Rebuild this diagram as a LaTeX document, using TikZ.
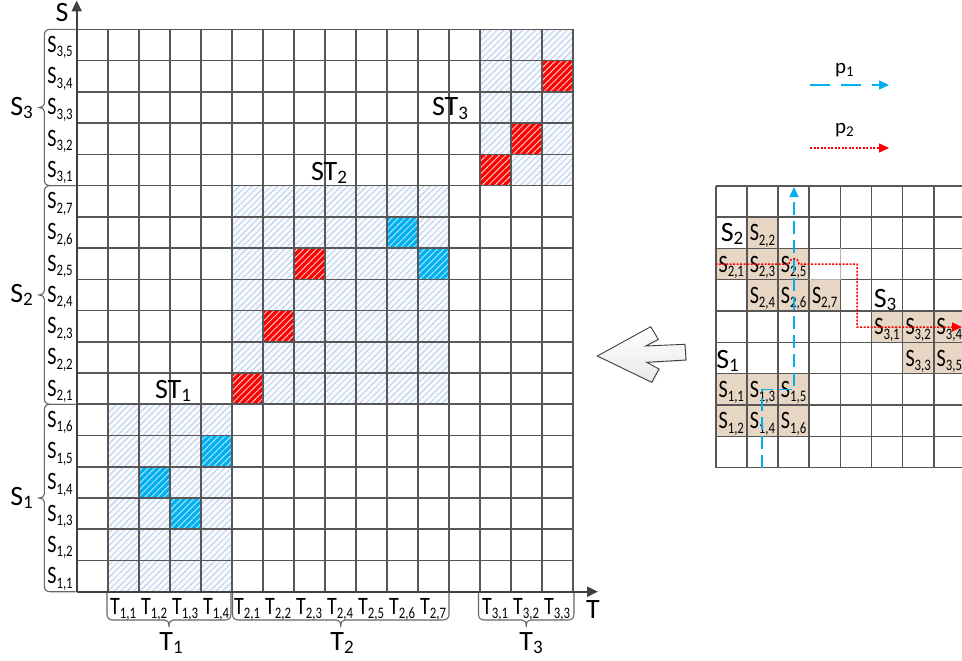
\documentclass[tikz,border=0pt]{standalone}
\usepackage{fontspec}
\setmainfont{Carlito}
\usetikzlibrary{patterns.meta,arrows.meta,shadows}
\definecolor{gridc}{HTML}{575757}
\definecolor{axisc}{HTML}{404040}
\definecolor{bracec}{HTML}{666666}
\definecolor{hbg}{HTML}{F7F9FD}
\definecolor{hline}{HTML}{B3CBE8}
\definecolor{cred}{HTML}{FF0000}
\definecolor{credl}{HTML}{FFC4C4}
\definecolor{cblue}{HTML}{00B0F0}
\definecolor{cbluel}{HTML}{A6E2F8}
\definecolor{tancell}{HTML}{E6D6C3}
\definecolor{pblue}{HTML}{00B0F0}
\definecolor{pred}{HTML}{FF0000}
\newcommand{\smalllab}[2]{\scalebox{0.8}[1]{#1\raisebox{-4.5pt}{\fontsize{16}{16}\selectfont #2}}}
\newcommand{\biglab}[2]{#1\raisebox{-3pt}{\fontsize{19}{19}\selectfont #2}}
\def\gridX{76.7}\def\gridW{31}\def\gridY{591.7}\def\gridH{31.24}
\def\smX{715.7}\def\smW{31.15}\def\smY{185.7}\def\smH{31.33}
\newcommand{\mcell}[3]{\fill[#3] ({\gridX+#1*\gridW},{\gridY-#2*\gridH}) rectangle ({\gridX+#1*\gridW+\gridW},{\gridY-#2*\gridH-\gridH});}
\newcommand{\twocell}[4]{\mcell{#1}{#2}{#3}\mcell{#1}{#2}{#4}}
\newcommand{\sbrace}[2]{%
\pgfmathsetmacro\bmid{(#1+#2)/2}%
\draw[bracestyle] (75.5,#1) -- (50.3,#1) .. controls (46.3,#1) and (44.3,{#1+2}) .. (44.3,{#1+6}) -- (44.3,{\bmid-4}) .. controls (44.3,{\bmid-1.5}) and (42,\bmid) .. (39,\bmid) .. controls (42,\bmid) and (44.3,{\bmid+1.5}) .. (44.3,{\bmid+4}) -- (44.3,{#2-6}) .. controls (44.3,{#2-2}) and (46.3,#2) .. (50.3,#2) -- (75.5,#2);}
\newcommand{\tbrace}[2]{%
\pgfmathsetmacro\bmid{(#1+#2)/2}%
\draw[bracestyle] (#1,593) -- (#1,614) .. controls (#1,618) and ({#1+2},620) .. ({#1+6},620) -- ({\bmid-4},620) .. controls ({\bmid-1.5},620) and (\bmid,622) .. (\bmid,627) .. controls (\bmid,622) and ({\bmid+1.5},620) .. ({\bmid+4},620) -- ({#2-6},620) .. controls ({#2-2},620) and (#2,618) .. (#2,614) -- (#2,593);}
\newcommand{\tcell}[4]{%
\fill[tancell] ({\smX+#1*\smW},{\smY+#2*\smH}) rectangle ({\smX+#1*\smW+\smW},{\smY+#2*\smH+\smH});
\node[slab] (#3) at ({\smX+(#1+0.5)*\smW},{\smY+(#2+0.5)*\smH+8}) {#4};}
\begin{document}
\begin{tikzpicture}[x=1pt,y=-1pt,
 gridline/.style={draw=gridc,line width=1.6pt},
 axisline/.style={draw=axisc,line width=2pt,-{Triangle[length=11pt,width=10pt]}},
 bracestyle/.style={draw=bracec,line width=1.1pt},
 slab/.style={font=\fontsize{25}{25}\selectfont,inner sep=0pt,anchor=base},
 blab/.style={font=\fontsize{28}{28}\selectfont,inner sep=0pt,anchor=base},
 hbgst/.style={fill=hbg},
 hpatst/.style={pattern={Lines[angle=45,distance=4.5pt,line width=0.8pt]},pattern color=hline},
 rbgst/.style={fill=cred},
 rpatst/.style={pattern={Lines[angle=45,distance=4.5pt,line width=1pt]},pattern color=credl},
 bbgst/.style={fill=cblue},
 bpatst/.style={pattern={Lines[angle=45,distance=4.5pt,line width=1pt]},pattern color=cbluel},
 p1line/.style={draw=pblue,line width=1.5pt,dash pattern=on 20pt off 11pt,-{Triangle[length=10pt,width=9pt]}},
 p1path/.style={draw=pblue,line width=1.5pt,dash pattern=on 13pt off 6pt,-{Triangle[length=10pt,width=9pt]}},
 p2line/.style={draw=pred,line width=1.5pt,dash pattern=on 2pt off 1.5pt,-{Triangle[length=10pt,width=9pt]}},
 bigarrow/.style={draw=axisc,line width=0.9pt,top color=white,bottom color=gray!18,drop shadow={opacity=0.25,shadow xshift=1pt,shadow yshift=-1pt}}
 ]
\useasboundingbox (0,0) rectangle (962,661);
% ---------- hatched sub-tables ----------
\foreach \c in {1,...,4}{\foreach \r in {0,...,5}{\twocell{\c}{\r}{hbgst}{hpatst}}}
\foreach \c in {5,...,11}{\foreach \r in {6,...,12}{\twocell{\c}{\r}{hbgst}{hpatst}}}
\foreach \c in {13,...,15}{\foreach \r in {13,...,17}{\twocell{\c}{\r}{hbgst}{hpatst}}}
% red cells
\foreach \c/\r in {5/6,6/8,7/10,13/13,14/14,15/16}{\twocell{\c}{\r}{rbgst}{rpatst}}
% blue cells
\foreach \c/\r in {4/4,2/3,3/2,10/11,11/10}{\twocell{\c}{\r}{bbgst}{bpatst}}
% ---------- grid ----------
\foreach \i in {0,...,16}{\draw[gridline] ({\gridX+\i*\gridW},\gridY) -- ({\gridX+\i*\gridW},{\gridY-18*\gridH});}
\foreach \j in {0,...,18}{\draw[gridline] (\gridX,{\gridY-\j*\gridH}) -- ({\gridX+16*\gridW},{\gridY-\j*\gridH});}
% ---------- axes ----------
\coordinate (O) at (\gridX,\gridY);
\coordinate (Stip) at (\gridX,0.5);
\coordinate (Ttip) at (598,\gridY);
\draw[axisline] (O) -- (Stip);
\draw[axisline] (O) -- (Ttip);
\node[blab] (Saxis) at (62,21.7) {S};
\node[blab] (Taxis) at (593,618) {T};
% ---------- row labels ----------
\foreach \j in {1,...,6}{\node[slab] (s1\j) at (60,{\gridY-(\j-0.5)*\gridH+7.5}) {\smalllab{S}{1,\j}};}
\foreach \j in {1,...,7}{\node[slab] (s2\j) at (60,{\gridY-(\j+5.5)*\gridH+7.5}) {\smalllab{S}{2,\j}};}
\foreach \j in {1,...,5}{\node[slab] (s3\j) at (60,{\gridY-(\j+12.5)*\gridH+7.5}) {\smalllab{S}{3,\j}};}
% ---------- column labels ----------
\foreach \j in {1,...,4}{\node[slab] (t1\j) at ({\gridX+(\j+0.5)*\gridW},614) {\smalllab{T}{1,\j}};}
\foreach \j in {1,...,7}{\node[slab] (t2\j) at ({\gridX+(\j+4.5)*\gridW},614) {\smalllab{T}{2,\j}};}
\foreach \j in {1,...,3}{\node[slab] (t3\j) at ({\gridX+(\j+12.5)*\gridW},614) {\smalllab{T}{3,\j}};}
% ---------- braces ----------
\sbrace{29.4}{185.6}
\sbrace{185.6}{404.3}
\sbrace{404.3}{591.7}
\tbrace{107}{231}
\tbrace{232.5}{449}
\tbrace{478.5}{574}
\node[blab] (S3big) at (21.5,115) {\biglab{S}{3}};
\node[blab] (S2big) at (21.5,302.5) {\biglab{S}{2}};
\node[blab] (S1big) at (21.5,505.5) {\biglab{S}{1}};
\node[blab] (T1big) at (171,650) {\biglab{T}{1}};
\node[blab] (T2big) at (342,650) {\biglab{T}{2}};
\node[blab] (T3big) at (531,650) {\biglab{T}{3}};
% ---------- sub-table labels ----------
\node[blab] (ST1) at (173,398) {\biglab{ST}{1}};
\node[blab] (ST2) at (329,180) {\biglab{ST}{2}};
\node[blab] (ST3) at (450,116) {\biglab{ST}{3}};
% ---------- big left arrow ----------
\path[bigarrow] (597.3,356) -- (650.7,326.7) -- (658.3,339.3) -- (645.7,346) -- (685,344.3) -- (686,360) -- (646.7,362.3) -- (659,369) -- (651.7,382.3) -- cycle;
% ---------- small grid ----------
\begin{scope}
\clip ({\smX-2},{\smY-2}) rectangle (962,{\smY+9*\smH+2});
\tcell{1}{1}{q22}{\smalllab{S}{2,2}}
\tcell{0}{2}{q21}{\smalllab{S}{2,1}}
\tcell{1}{2}{q23}{\smalllab{S}{2,3}}
\tcell{2}{2}{q25}{\smalllab{S}{2,5}}
\tcell{1}{3}{q24}{\smalllab{S}{2,4}}
\tcell{2}{3}{q26}{\smalllab{S}{2,6}}
\tcell{3}{3}{q27}{\smalllab{S}{2,7}}
\tcell{5}{4}{q31}{\smalllab{S}{3,1}}
\tcell{6}{4}{q32}{\smalllab{S}{3,2}}
\tcell{7}{4}{q34}{\smalllab{S}{3,4}}
\tcell{6}{5}{q33}{\smalllab{S}{3,3}}
\tcell{7}{5}{q35}{\smalllab{S}{3,5}}
\tcell{0}{6}{q11}{\smalllab{S}{1,1}}
\tcell{1}{6}{q13}{\smalllab{S}{1,3}}
\tcell{2}{6}{q15}{\smalllab{S}{1,5}}
\tcell{0}{7}{q12}{\smalllab{S}{1,2}}
\tcell{1}{7}{q14}{\smalllab{S}{1,4}}
\tcell{2}{7}{q16}{\smalllab{S}{1,6}}
\foreach \i in {0,...,8}{\draw[gridline] ({\smX+\i*\smW},\smY) -- ({\smX+\i*\smW},{\smY+9*\smH});}
\foreach \j in {0,...,9}{\draw[gridline] (\smX,{\smY+\j*\smH}) -- (965,{\smY+\j*\smH});}
\draw[draw=gray!60,line width=1.2pt] ({\smX+4*\smW},{\smY+2*\smH}) -- ({\smX+4*\smW},{\smY+3*\smH}) -- ({\smX+3*\smW},{\smY+3*\smH});
\end{scope}
\node[blab] (smS2) at (732,241.7) {\biglab{S}{2}};
\node[blab] (smS3) at (885,307) {\biglab{S}{3}};
\node[blab] (smS1) at (727.5,368) {\biglab{S}{1}};
% paths
\coordinate (p1s) at (762,{\smY+9*\smH});
\coordinate (p1m) at (794,389.5);
\coordinate (p1e) at (794,187);
\draw[p1path] (p1s) |- (p1m) -- (p1e);
\coordinate (p2s) at (\smX,264);
\coordinate (p2m) at (857,327);
\coordinate (p2e) at (962,327);
\draw[p2line] (p2s) -- (789,264) .. controls (789,257) and (799,257) .. (799,264) -- (857,264) -- (p2m) -- (p2e);
% ---------- legend ----------
\node[font=\fontsize{21}{21}\selectfont,inner sep=0pt,anchor=base] (p1lab) at (844.5,74) {p\raisebox{-3pt}{\fontsize{15}{15}\selectfont 1}};
\node[font=\fontsize{21}{21}\selectfont,inner sep=0pt,anchor=base] (p2lab) at (844.5,133.5) {p\raisebox{-3pt}{\fontsize{15}{15}\selectfont 2}};
\coordinate (l1a) at (810,85);
\coordinate (l1b) at (889,85);
\coordinate (l2a) at (810,148);
\coordinate (l2b) at (889,148);
\draw[p1line] (l1a) -- (l1b);
\draw[p2line] (l2a) -- (l2b);
\end{tikzpicture}
\end{document}
